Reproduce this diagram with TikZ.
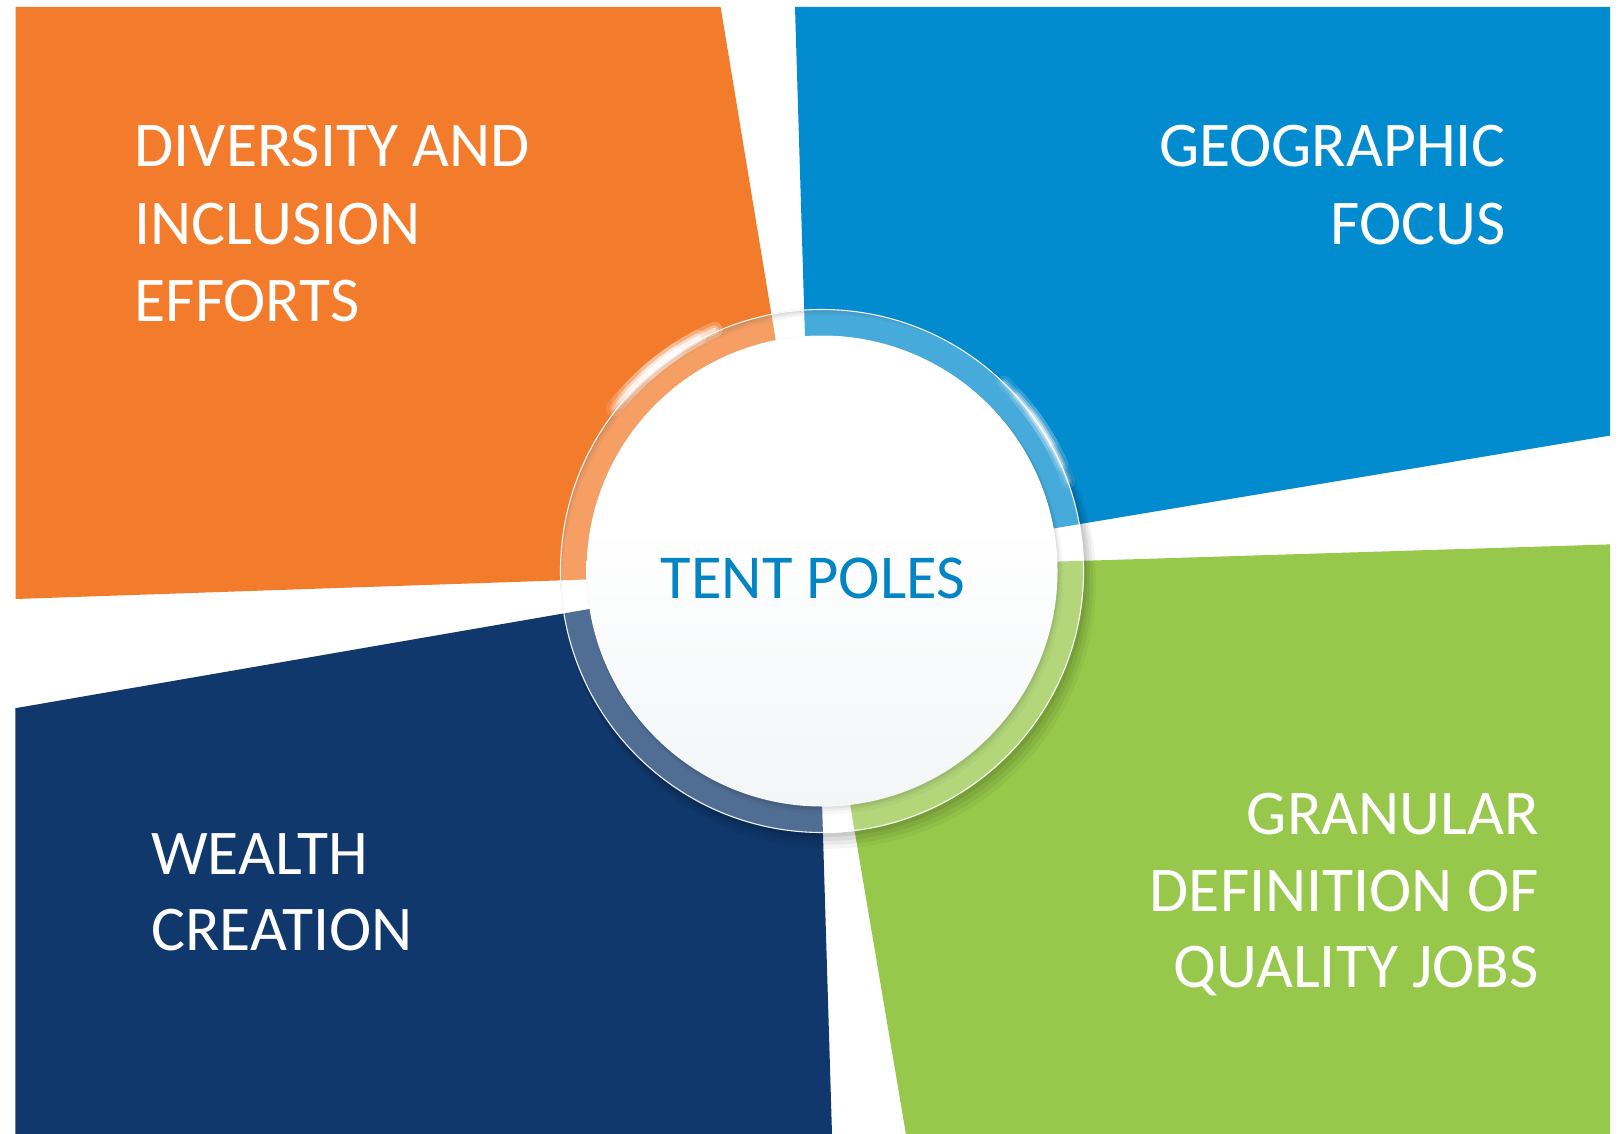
\documentclass[tikz,border=0pt]{standalone}
\usepackage{fontspec}
\setmainfont{Carlito}
\definecolor{corange}{RGB}{243,124,44}
\definecolor{cblue}{RGB}{2,139,207}
\definecolor{cgreen}{RGB}{151,200,75}
\definecolor{cnavy}{RGB}{16,56,108}
\definecolor{ctext}{RGB}{3,132,196}
\definecolor{cgray}{RGB}{236,240,242}
\pgfdeclareverticalshading{discshade}{100bp}{color(0bp)=(cgray); color(30bp)=(cgray!55!white); color(55bp)=(white); color(100bp)=(white)}
\begin{document}
\begin{tikzpicture}[x=1pt,y=-1pt,
  lbl/.style={text=white, inner sep=0pt, font=\fontsize{63.7}{77}\selectfont},
  hubtext/.style={text=ctext, inner sep=0pt, font=\fontsize{62.5}{77}\selectfont},
  glow/.style={white, line cap=round}]
\useasboundingbox (0,0) rectangle (1620,1134);
\fill[white] (0,0) rectangle (1620,1134);
% quadrants
\fill[corange] (15.5,7) -- (720.6,7) -- (814,571.7) -- (15.5,599) -- cycle;
\fill[cblue] (795,7) -- (1610,7) -- (1610,435.6) -- (812,568.7) -- cycle;
\fill[cgreen] (1610,544.4) -- (1610,1134) -- (905.9,1134) -- (810.4,569.3) -- cycle;
\fill[cnavy] (15.4,708.2) -- (815,570) -- (832,1134) -- (15.4,1134) -- cycle;
% soft shadow of the ring, outside only
\foreach \d/\o in {3/0.07,6/0.06,9/0.05,12/0.04}
  \fill[black,opacity=\o,even odd rule] (822+\d*0.6,571+\d*0.9) circle (262+\d*0.4) (822,571) circle (262);
% glass ring
\fill[white,opacity=0.27] (822,571) circle (262);
% shadow of the inner disc on the ring
\foreach \d/\o in {2/0.05,4/0.04,7/0.03}
  \fill[black,opacity=\o,even odd rule] (822+\d*0.5,571+\d*0.8) circle (235.5+\d*0.3) (822,571) circle (235.5);
% glossy highlights on the ring edge
\foreach \a/\b in {-140/-114,-136/-118,-131/-123}{
  \foreach \w/\o in {16/0.12,9/0.18,4/0.3}
    \draw[glow,line width=\w,opacity=\o] (822,571) ++(\a:264) arc (\a:\b:264);
}
\foreach \a/\b in {-46/-20,-42/-24,-37/-29}{
  \foreach \w/\o in {14/0.10,8/0.15,4/0.25}
    \draw[glow,line width=\w,opacity=\o] (822,571) ++(\a:262) arc (\a:\b:262);
}
\foreach \a/\b in {218/246,222/242,228/236}{
  \foreach \w/\o in {16/0.12,9/0.18,4/0.3}
    \draw[glow,line width=\w,opacity=\o] (822,571) ++(\a:264) arc (\a:\b:264);
}
\draw[white,opacity=0.9,line width=1.1] (822,571) circle (261.5);
% inner disc
\shade[shading=discshade] (822,571) circle (235.5);
% texts
\node[hubtext, anchor=base] (hub) at (813,598.8) {TENT POLES};
\node[lbl, anchor=base west] (d1) at (134.5,167) {DIVERSITY AND};
\node[lbl, anchor=base west] (d2) at (134.5,244) {INCLUSION};
\node[lbl, anchor=base west] (d3) at (134.5,321) {EFFORTS};
\node[lbl, anchor=base east] (g1) at (1506,167) {GEOGRAPHIC};
\node[lbl, anchor=base east] (g2) at (1506,244) {FOCUS};
\node[lbl, anchor=base west] (w1) at (151,874) {WEALTH};
\node[lbl, anchor=base west] (w2) at (151,950) {CREATION};
\node[lbl, anchor=base east] (q1) at (1539,834.5) {GRANULAR};
\node[lbl, anchor=base east] (q2) at (1539,911) {DEFINITION OF};
\node[lbl, anchor=base east] (q3) at (1539,987) {QUALITY JOBS};
\end{tikzpicture}
\end{document}
